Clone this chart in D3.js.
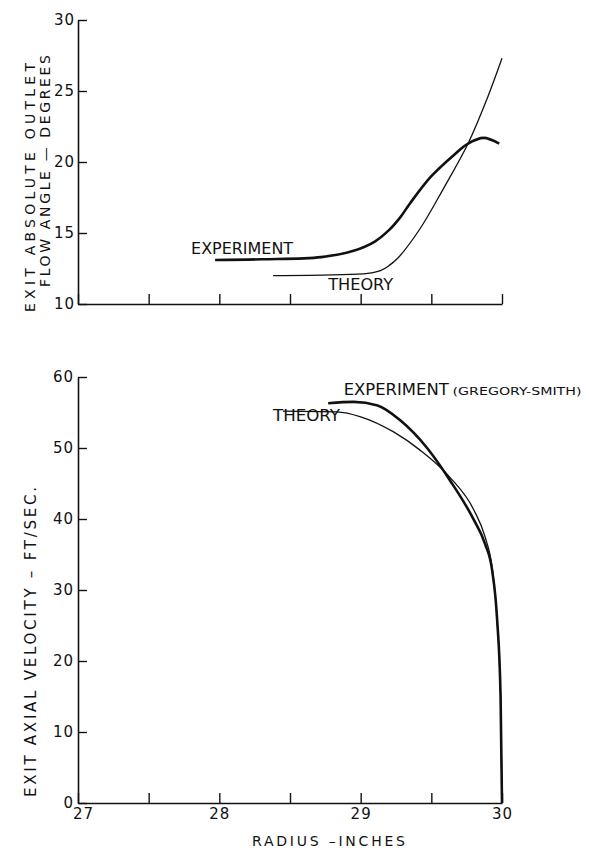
<!DOCTYPE html>
<html>
<head>
<meta charset="utf-8">
<script src="https://cdn.jsdelivr.net/npm/d3@7"></script>
<style>
    body { margin: 0; background: #fff; }
    text { font-family: "DejaVu Sans", sans-serif; fill: #111; }
</style>
</head>
<body>
<div id="chart"></div>
<script>
// flow angle plot (top)
var angleExpR = [27.97, 28.3, 28.72, 28.95, 29.1, 29.2, 29.28, 29.35, 29.5, 29.66, 29.76, 29.87, 29.98];
var angleExpV = [13.1, 13.15, 13.3, 13.75, 14.4, 15.2, 16.1, 17.1, 19.0, 20.5, 21.3, 21.7, 21.3];
var angleTheoryR = [28.38, 28.8, 29.05, 29.14, 29.2, 29.26, 29.42, 29.59, 29.76, 29.9, 30.0];
var angleTheoryV = [12.0, 12.05, 12.15, 12.35, 12.7, 13.2, 15.3, 18.2, 21.3, 24.6, 27.3];

// axial velocity plot (bottom)
var velExpR = [28.77, 28.95, 29.12, 29.28, 29.47, 29.63, 29.8, 29.88, 29.93, 29.965, 29.99, 30.0];
var velExpV = [56.3, 56.5, 56.0, 53.9, 50.0, 45.5, 39.9, 36.5, 32.8, 26, 15, 0];
var velTheoryR = [28.45, 28.83, 29.0, 29.23, 29.42, 29.63, 29.8, 29.88, 29.93, 29.965, 29.99, 30.0];
var velTheoryV = [55.2, 55.1, 54.4, 52.3, 49.7, 45.9, 41.3, 37.5, 33.2, 26, 15, 0];

var radiusTicks = [27, 27.5, 28, 28.5, 29, 29.5, 30];
var radiusLabels = [27, 28, 29, 30];
var angleTicks = [10, 15, 20, 25, 30];
var velTicks = [0, 10, 20, 30, 40, 50, 60];

function zip(xs, ys){
    return xs.map(function(x, i){ return [x, ys[i]]; });
}

function init(){
    var w = 589;
    var h = 848;

    var svg = d3.select("#chart")
                .append("svg")
                .attr("width", w)
                .attr("height", h);

    var x = d3.scaleLinear().domain([27, 30]).range([78, 502]);
    var yA = d3.scaleLinear().domain([10, 30]).range([304, 20]);
    var yV = d3.scaleLinear().domain([0, 60]).range([803, 377]);

    function styleAxis(g){
        g.select(".domain").attr("stroke", "#111").attr("stroke-width", 1.6);
        g.selectAll(".tick line").attr("stroke", "#111").attr("stroke-width", 1.4);
        g.selectAll(".tick text")
            .style("font-family", "DejaVu Sans, sans-serif")
            .style("font-size", "15px")
            .style("letter-spacing", "1px")
            .attr("fill", "#111");
    }

    // top axes
    svg.append("g")
        .attr("transform", "translate(0," + yA(10) + ")")
        .call(d3.axisBottom(x).tickValues(radiusTicks).tickSizeInner(-10).tickSizeOuter(0).tickFormat(""))
        .call(styleAxis);
    svg.append("g")
        .attr("transform", "translate(" + x(27) + ",0)")
        .call(d3.axisLeft(yA).tickValues(angleTicks).tickSizeInner(-9).tickSizeOuter(0).tickPadding(3))
        .call(styleAxis);

    // bottom axes
    svg.append("g")
        .attr("transform", "translate(0," + yV(0) + ")")
        .call(d3.axisBottom(x).tickValues(radiusTicks).tickSizeInner(-10).tickSizeOuter(0).tickPadding(5)
            .tickFormat(function(d){ return radiusLabels.indexOf(d) >= 0 ? d : ""; }))
        .call(styleAxis)
        .selectAll(".tick text").attr("dx", function(d){ return d == 27 ? 5 : 0; });
    svg.append("g")
        .attr("transform", "translate(" + x(27) + ",0)")
        .call(d3.axisLeft(yV).tickValues(velTicks).tickSizeInner(-9).tickSizeOuter(0).tickPadding(4))
        .call(styleAxis);

    // curves
    var lineA = d3.line()
        .x(function(d){ return x(d[0]); })
        .y(function(d){ return yA(d[1]); })
        .curve(d3.curveCatmullRom.alpha(0.5));
    var lineV = d3.line()
        .x(function(d){ return x(d[0]); })
        .y(function(d){ return yV(d[1]); })
        .curve(d3.curveMonotoneX);

    svg.append("path").attr("d", lineA(zip(angleExpR, angleExpV)))
        .attr("fill", "none").attr("stroke", "#111").attr("stroke-width", 2.6);
    svg.append("path").attr("d", lineA(zip(angleTheoryR, angleTheoryV)))
        .attr("fill", "none").attr("stroke", "#111").attr("stroke-width", 1.3);
    svg.append("path").attr("d", lineV(zip(velExpR, velExpV)))
        .attr("fill", "none").attr("stroke", "#111").attr("stroke-width", 2.6);
    svg.append("path").attr("d", lineV(zip(velTheoryR, velTheoryV)))
        .attr("fill", "none").attr("stroke", "#111").attr("stroke-width", 1.3);

    // curve labels
    svg.append("text").text("EXPERIMENT")
        .attr("x", x(27.8)).attr("y", yA(13.5))
        .attr("textLength", 102).attr("lengthAdjust", "spacingAndGlyphs")
        .style("font-size", "15px");
    svg.append("text").text("THEORY")
        .attr("x", x(28.77)).attr("y", yA(11.0))
        .attr("textLength", 65).attr("lengthAdjust", "spacingAndGlyphs")
        .style("font-size", "15px");
    svg.append("text").text("EXPERIMENT")
        .attr("x", x(28.88)).attr("y", yV(57.5))
        .attr("textLength", 105).attr("lengthAdjust", "spacingAndGlyphs")
        .style("font-size", "15px");
    svg.append("text").text("(GREGORY-SMITH)")
        .attr("x", x(29.65)).attr("y", yV(57.5))
        .attr("textLength", 129).attr("lengthAdjust", "spacingAndGlyphs")
        .style("font-size", "10px");
    svg.append("text").text("THEORY")
        .attr("x", x(28.38)).attr("y", yV(53.8))
        .attr("textLength", 67).attr("lengthAdjust", "spacingAndGlyphs")
        .style("font-size", "15px");

    // axis titles
    svg.append("text").text("EXIT ABSOLUTE OUTLET")
        .attr("transform", "translate(35,312) rotate(-90)")
        .attr("textLength", 249).attr("lengthAdjust", "spacing")
        .style("font-size", "14px");
    svg.append("text").text("FLOW ANGLE — DEGREES")
        .attr("transform", "translate(50,287) rotate(-90)")
        .attr("textLength", 232).attr("lengthAdjust", "spacing")
        .style("font-size", "14px");
    svg.append("text").text("EXIT AXIAL VELOCITY  –  FT/SEC.")
        .attr("transform", "translate(36,797) rotate(-90)")
        .attr("textLength", 310).attr("lengthAdjust", "spacing")
        .style("font-size", "15px");
    svg.append("text").text("RADIUS –INCHES")
        .attr("x", 252).attr("y", 846)
        .attr("textLength", 153).attr("lengthAdjust", "spacing")
        .style("font-size", "14px");
}
window.onload = init;
</script>
</body>
</html>
